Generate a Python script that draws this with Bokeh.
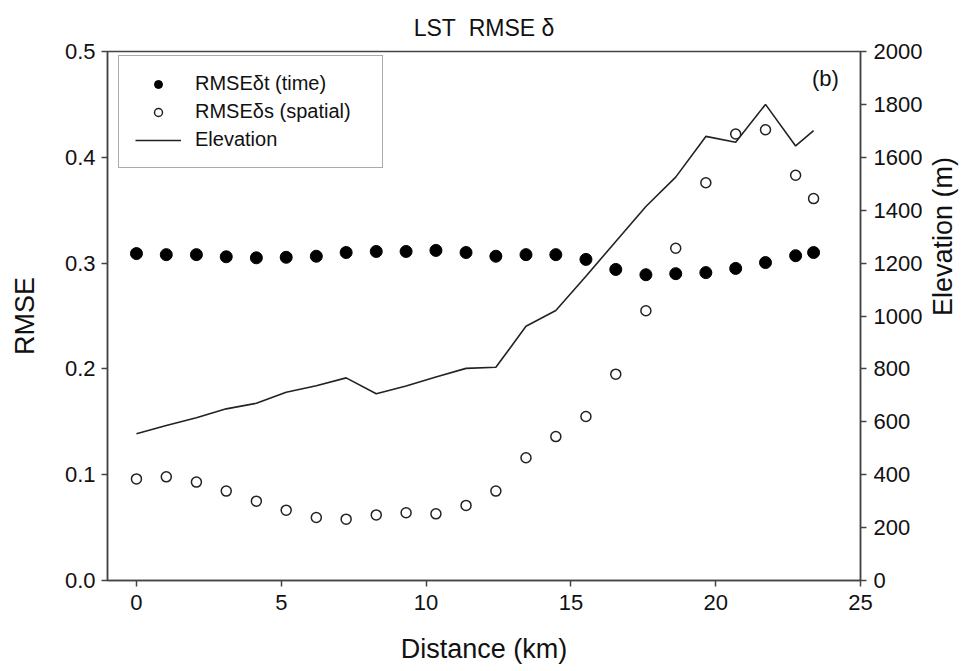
import math
from bokeh.plotting import figure
from bokeh.models import Range1d, LinearAxis, FixedTicker, Legend, LegendItem, Label, PrintfTickFormatter
from bokeh.embed import file_html
from bokeh.resources import INLINE

distance = [0, 1.03, 2.07, 3.1, 4.14, 5.17, 6.21, 7.24, 8.28, 9.31, 10.34, 11.38,
            12.41, 13.45, 14.48, 15.52, 16.55, 17.59, 18.62, 19.66, 20.69, 21.72, 22.76, 23.38]
rmse_time = [0.309, 0.308, 0.308, 0.306, 0.305, 0.3055, 0.3065, 0.310, 0.311, 0.311, 0.312, 0.310,
             0.3065, 0.308, 0.308, 0.3035, 0.294, 0.289, 0.290, 0.291, 0.295, 0.3005, 0.307, 0.310]
rmse_spatial = [0.096, 0.098, 0.093, 0.0845, 0.075, 0.0665, 0.0595, 0.058, 0.062, 0.064, 0.063, 0.071,
                0.0845, 0.116, 0.136, 0.155, 0.195, 0.255, 0.314, 0.376, 0.422, 0.426, 0.383, 0.361]
elevation = [555, 586, 615, 649, 670, 712, 736, 766, 706, 735, 769, 802,
             806, 961, 1021, 1150, 1282, 1414, 1525, 1679, 1657, 1800, 1643, 1701]

x_ticks = [0, 5, 10, 15, 20, 25]
y_ticks = [0.0, 0.1, 0.2, 0.3, 0.4, 0.5]
elev_ticks = [0, 200, 400, 600, 800, 1000, 1200, 1400, 1600, 1800, 2000]

FONT = "Liberation Sans"
AX = "#444444"

p = figure(width=979, height=671, output_backend="svg", toolbar_location=None,
           x_range=Range1d(-1, 25), y_range=Range1d(0, 0.5),
           min_border_left=107, min_border_right=119, min_border_top=51, min_border_bottom=91)
p.title.text = "LST\u00a0\u00a0RMSE \u03b4"
p.title.align = "center"
p.title.text_font = FONT
p.title.text_font_size = "23px"
p.title.text_font_style = "normal"
p.title.text_color = "#111111"
p.title.offset = 0
p.title.standoff = 22

p.extra_y_ranges = {"elev": Range1d(0, 2000)}
p.xgrid.visible = False
p.ygrid.visible = False
p.outline_line_color = AX
p.outline_line_width = 1.5

def style_axis(ax):
    ax.axis_line_color = AX
    ax.axis_line_width = 1.5
    ax.major_tick_line_color = AX
    ax.major_tick_line_width = 1.5
    ax.major_tick_out = 6
    ax.major_tick_in = 0
    ax.minor_tick_line_color = None
    ax.major_label_text_font = FONT
    ax.major_label_text_font_size = "22px"
    ax.major_label_text_color = "#111111"
    ax.axis_label_text_font = FONT
    ax.axis_label_text_font_size = "27px"
    ax.axis_label_text_font_style = "normal"
    ax.axis_label_text_color = "#111111"

xa = p.xaxis[0]
xa.ticker = FixedTicker(ticks=x_ticks)
xa.axis_label = "Distance (km)"
style_axis(xa)
xa.major_label_standoff = 8
xa.axis_label_standoff = 21

ya = p.yaxis[0]
ya.ticker = FixedTicker(ticks=y_ticks)
ya.formatter = PrintfTickFormatter(format="%.1f")
ya.axis_label = "RMSE"
style_axis(ya)
ya.major_label_standoff = 6
ya.axis_label_standoff = 22

ra = LinearAxis(y_range_name="elev", axis_label="Elevation (m)")
ra.ticker = FixedTicker(ticks=elev_ticks)
style_axis(ra)
ra.major_label_standoff = 7
ra.axis_label_standoff = 18
ra.axis_label_orientation = math.pi / 2
p.add_layout(ra, "right")

r_line = p.line(distance, elevation, y_range_name="elev", line_color="#222222", line_width=1.6)
r_time = p.scatter(distance, rmse_time, marker="circle", size=12, fill_color="black", line_color="black")
r_sp = p.scatter(distance, rmse_spatial, marker="circle", size=10, fill_color="white",
                 line_color="#222222", line_width=1.5)

legend = Legend(items=[LegendItem(label="RMSE\u03b4t (time)", renderers=[r_time]),
                       LegendItem(label="RMSE\u03b4s (spatial)", renderers=[r_sp]),
                       LegendItem(label="Elevation", renderers=[r_line])],
                location=(11, 412))
legend.label_text_font = FONT
legend.label_text_font_size = "20px"
legend.label_text_color = "#111111"
legend.border_line_color = "#555555"
legend.border_line_width = 1.5
legend.padding = 16
legend.margin = 0
legend.spacing = 5
legend.glyph_height = 20
legend.glyph_width = 46
legend.label_height = 20
legend.label_standoff = 14
legend.label_width = 171
legend.background_fill_alpha = 1.0
p.add_layout(legend, "center")

p.add_layout(Label(x=23.79, y=0.4745, text="(b)", text_align="center", text_baseline="middle",
                   text_font=FONT, text_font_size="22px", text_color="#111111"))

open("out.html", "w").write(file_html(p, INLINE))
